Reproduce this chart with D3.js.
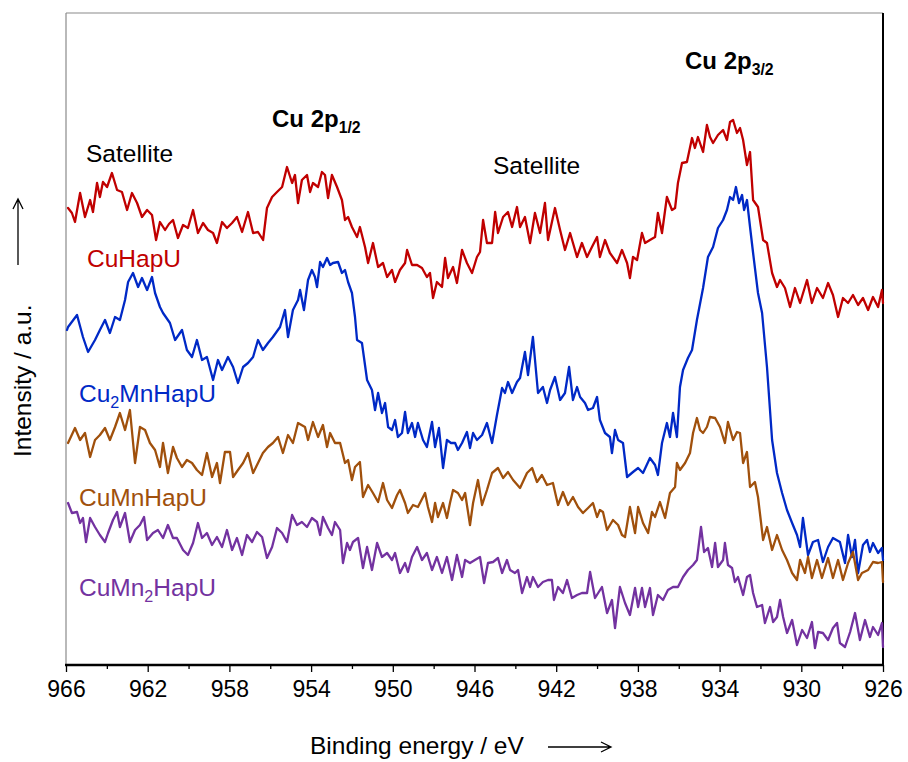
<!DOCTYPE html>
<html>
<head>
<meta charset="utf-8">
<script src="https://cdn.jsdelivr.net/npm/d3@7"></script>
<style>
  html, body { margin: 0; padding: 0; background: #fff; }
  svg { display: block; font-family: "Liberation Sans", Arial, sans-serif; }
</style>
</head>
<body>
<svg id="chart" width="908" height="762"></svg>
<script>
// Cu 2p XPS spectra, binding energy (eV) vs. intensity (a.u., stacked)
const majorTicks = [966, 962, 958, 954, 950, 946, 942, 938, 934, 930, 926];
const minorTicks = [964, 960, 956, 952, 948, 944, 940, 936, 932, 928];

const cuHapU = [[965.90,454],[965.71,449],[965.56,440],[965.31,469],[965.07,445],[964.82,462],[964.68,450],[964.48,479],[964.34,465],[964.19,480],[963.99,475],[963.75,489],[963.50,472],[963.26,470],[963.01,452],[962.77,469],[962.52,459],[962.28,445],[962.03,452],[961.79,447],[961.59,422],[961.40,440],[961.15,432],[960.96,438],[960.76,442],[960.52,424],[960.27,437],[960.03,434],[959.78,452],[959.54,429],[959.29,439],[959.05,432],[958.80,429],[958.61,419],[958.36,440],[958.12,434],[957.87,439],[957.63,445],[957.38,430],[957.09,450],[956.84,429],[956.60,430],[956.35,422],[956.16,454],[955.91,465],[955.67,470],[955.42,475],[955.18,495],[954.93,479],[954.79,487],[954.64,459],[954.45,482],[954.20,487],[954.05,470],[953.91,479],[953.66,475],[953.47,490],[953.32,487],[953.17,464],[952.98,487],[952.73,475],[952.49,462],[952.34,442],[952.19,445],[952.00,435],[951.75,425],[951.61,435],[951.36,415],[951.21,399],[950.97,419],[950.72,395],[950.48,399],[950.28,385],[950.04,392],[949.89,380],[949.65,392],[949.40,399],[949.30,412],[949.06,397],[948.81,397],[948.57,394],[948.33,385],[948.18,389],[948.03,364],[947.84,380],[947.59,375],[947.44,404],[947.30,384],[947.05,395],[946.86,379],[946.61,412],[946.37,399],[946.12,389],[945.88,405],[945.73,410],[945.58,442],[945.39,419],[945.14,419],[944.99,450],[944.85,429],[944.60,445],[944.36,450],[944.16,435],[943.92,455],[943.77,435],[943.53,445],[943.28,419],[943.04,449],[942.79,429],[942.55,459],[942.40,422],[942.06,454],[941.81,432],[941.57,412],[941.32,429],[940.98,405],[940.74,419],[940.49,405],[940.25,415],[940.00,425],[939.86,405],[939.61,422],[939.37,409],[939.02,399],[938.78,412],[938.53,399],[938.39,384],[938.24,405],[938.04,402],[937.80,429],[937.65,419],[937.41,422],[937.16,425],[937.02,449],[936.82,429],[936.58,465],[936.33,452],[936.18,454],[936.04,479],[935.84,499],[935.60,500],[935.35,524],[935.21,514],[935.06,525],[934.81,510],[934.62,537],[934.47,525],[934.32,519],[934.08,527],[933.83,532],[933.64,522],[933.49,540],[933.34,542],[933.15,529],[933.00,534],[932.85,522],[932.66,497],[932.51,510],[932.36,462],[932.12,455],[931.87,422],[931.68,419],[931.43,389],[931.19,375],[931.04,382],[930.80,374],[930.55,355],[930.31,374],[930.06,359],[929.72,382],[929.48,359],[929.23,374],[928.94,364],[928.69,379],[928.45,367],[928.20,345],[927.96,364],[927.71,359],[927.47,367],[927.22,357],[926.98,364],[926.73,352],[926.49,365],[926.24,355],[926.05,372],[926.00,359]];

const cu2MnHapU = [[965.95,332],[965.90,335],[965.46,347],[965.17,325],[964.92,310],[964.58,322],[964.34,332],[964.09,342],[963.85,329],[963.60,345],[963.36,342],[963.11,362],[962.96,380],[962.72,389],[962.47,375],[962.28,384],[962.03,372],[961.79,385],[961.64,369],[961.40,355],[961.25,349],[960.91,339],[960.66,322],[960.32,332],[960.08,312],[959.83,305],[959.59,322],[959.34,302],[959.10,305],[958.80,282],[958.56,302],[958.36,292],[958.07,305],[957.82,295],[957.58,279],[957.33,295],[957.09,299],[956.84,305],[956.60,322],[956.36,312],[956.11,319],[955.87,325],[955.52,335],[955.28,352],[955.13,325],[954.89,352],[954.64,362],[954.54,372],[954.35,352],[954.15,382],[953.96,392],[953.81,385],[953.71,375],[953.56,400],[953.42,395],[953.22,404],[953.07,397],[952.93,399],[952.68,400],[952.49,389],[952.34,392],[952.19,380],[952.00,369],[951.85,345],[951.75,322],[951.51,319],[951.26,282],[951.02,272],[950.87,252],[950.72,269],[950.53,249],[950.38,259],[950.23,235],[950.04,232],[949.89,242],[949.75,225],[949.55,229],[949.40,250],[949.26,229],[949.06,239],[948.91,225],[948.77,239],[948.52,222],[948.33,215],[948.08,240],[947.93,215],[947.74,234],[947.54,194],[947.35,222],[947.15,219],[946.95,219],[946.81,212],[946.61,219],[946.37,230],[946.22,214],[946.07,229],[945.88,222],[945.63,227],[945.39,239],[945.14,219],[944.90,247],[944.65,274],[944.51,269],[944.36,280],[944.16,269],[943.92,280],[943.77,284],[943.53,310],[943.38,287],[943.14,325],[942.89,269],[942.65,275],[942.45,259],[942.30,272],[942.06,285],[941.81,262],[941.57,269],[941.37,295],[941.18,262],[940.98,275],[940.83,265],[940.59,259],[940.44,252],[940.20,254],[940.00,265],[939.86,242],[939.61,229],[939.37,225],[939.27,209],[939.12,232],[938.97,222],[938.73,219],[938.53,185],[938.24,190],[937.99,194],[937.75,189],[937.41,204],[937.16,197],[937.02,187],[936.82,219],[936.58,239],[936.43,225],[936.28,249],[936.09,225],[935.94,275],[935.79,292],[935.55,304],[935.35,312],[935.11,342],[934.81,374],[934.57,405],[934.32,415],[934.08,434],[933.83,442],[933.64,452],[933.49,465],[933.34,462],[933.20,475],[933.05,459],[932.90,467],[932.80,452],[932.66,462],[932.51,435],[932.36,409],[932.12,369],[931.92,349],[931.68,295],[931.43,222],[931.19,189],[930.94,169],[930.70,152],[930.45,139],[930.21,127],[930.06,115],[929.92,144],[929.67,107],[929.43,120],[929.18,122],[928.94,100],[928.69,115],[928.45,124],[928.11,120],[927.86,99],[927.71,127],[927.52,105],[927.37,122],[927.22,89],[926.98,117],[926.78,122],[926.64,110],[926.49,119],[926.24,109],[926.05,114],[926.00,102]];

const cuMnHapU = [[965.90,219],[965.56,234],[965.31,222],[965.07,229],[964.82,205],[964.58,222],[964.34,227],[964.09,234],[963.85,222],[963.60,235],[963.36,249],[963.11,232],[962.87,252],[962.62,199],[962.38,235],[962.13,232],[961.89,219],[961.64,212],[961.40,195],[961.25,219],[961.01,189],[960.76,215],[960.57,204],[960.32,195],[960.08,202],[959.83,199],[959.59,192],[959.34,187],[959.10,209],[958.85,185],[958.61,199],[958.46,179],[958.22,210],[957.97,210],[957.82,185],[957.58,192],[957.33,199],[957.09,209],[956.84,189],[956.60,199],[956.36,209],[956.11,215],[955.87,219],[955.62,225],[955.38,209],[955.13,227],[954.89,219],[954.64,239],[954.30,235],[954.15,222],[953.91,240],[953.66,225],[953.42,237],[953.22,215],[953.07,229],[952.83,219],[952.58,219],[952.34,199],[952.19,202],[952.00,182],[951.85,195],[951.61,200],[951.46,165],[951.21,177],[950.97,169],[950.72,160],[950.48,179],[950.28,162],[950.04,154],[949.79,167],[949.65,172],[949.40,159],[949.26,149],[949.01,157],[948.77,155],[948.42,169],[948.28,155],[948.08,140],[947.93,159],[947.79,145],[947.54,159],[947.35,144],[947.20,159],[947.05,172],[946.81,169],[946.61,162],[946.46,169],[946.22,137],[946.07,159],[945.83,182],[945.63,157],[945.39,172],[945.14,189],[944.85,194],[944.60,184],[944.36,190],[944.11,182],[943.77,174],[943.43,189],[943.18,194],[942.94,180],[942.70,187],[942.45,177],[942.16,179],[941.91,157],[941.67,170],[941.42,157],[941.18,165],[940.93,155],[940.69,149],[940.44,154],[940.20,159],[940.00,145],[939.86,152],[939.71,150],[939.51,132],[939.22,142],[938.97,137],[938.78,127],[938.63,125],[938.39,155],[938.14,129],[937.99,155],[937.75,139],[937.50,129],[937.31,150],[937.16,145],[936.92,160],[936.67,144],[936.43,169],[936.18,175],[936.09,199],[935.94,192],[935.69,199],[935.45,209],[935.30,229],[935.11,244],[934.96,232],[934.81,229],[934.62,235],[934.47,245],[934.22,244],[933.98,235],[933.74,219],[933.59,240],[933.34,222],[933.15,230],[933.00,229],[932.85,199],[932.66,210],[932.51,175],[932.27,180],[932.12,165],[931.87,122],[931.68,135],[931.43,112],[931.19,127],[930.94,112],[930.70,102],[930.45,89],[930.21,82],[930.06,102],[929.82,89],[929.67,105],[929.48,84],[929.23,102],[928.99,84],[928.69,104],[928.45,84],[928.20,102],[927.96,82],[927.71,99],[927.47,110],[927.22,82],[927.03,89],[926.73,92],[926.49,100],[926.24,99],[926.05,100],[926.00,80]];

const cuMn2HapU = [[965.90,159],[965.71,149],[965.46,150],[965.31,139],[965.17,144],[965.02,120],[964.82,144],[964.58,135],[964.34,127],[964.09,120],[963.94,129],[963.70,142],[963.50,150],[963.36,135],[963.11,149],[962.87,120],[962.62,132],[962.38,137],[962.18,145],[962.03,122],[961.74,129],[961.50,132],[961.25,124],[961.01,137],[960.76,124],[960.57,124],[960.27,112],[960.03,107],[959.78,119],[959.54,139],[959.34,124],[959.10,129],[958.85,117],[958.61,125],[958.36,115],[958.12,132],[957.87,112],[957.63,124],[957.38,107],[957.14,127],[956.89,120],[956.65,130],[956.40,125],[956.16,104],[955.91,115],[955.67,134],[955.42,129],[955.18,120],[954.93,147],[954.69,137],[954.45,140],[954.20,135],[953.96,144],[953.71,140],[953.56,127],[953.42,145],[953.17,134],[952.98,127],[952.83,140],[952.58,132],[952.44,99],[952.24,119],[952.10,112],[951.95,120],[951.70,124],[951.46,94],[951.26,115],[951.02,92],[950.77,119],[950.53,105],[950.28,109],[950.04,102],[949.89,109],[949.65,89],[949.40,99],[949.26,90],[949.06,105],[948.81,115],[948.57,102],[948.33,109],[948.08,92],[947.84,105],[947.59,89],[947.35,105],[947.10,82],[946.86,107],[946.61,85],[946.46,102],[946.22,99],[945.98,102],[945.73,105],[945.53,79],[945.34,99],[945.09,100],[944.85,104],[944.65,89],[944.41,102],[944.26,92],[944.02,89],[943.87,92],[943.67,69],[943.43,85],[943.28,75],[943.14,85],[942.89,75],[942.65,80],[942.40,82],[942.21,82],[942.11,62],[941.91,75],[941.67,69],[941.47,82],[941.23,64],[940.98,67],[940.74,69],[940.49,69],[940.34,90],[940.10,64],[939.76,75],[939.51,49],[939.27,62],[939.12,34],[938.88,75],[938.63,59],[938.39,47],[938.14,74],[937.99,55],[937.80,74],[937.65,55],[937.41,74],[937.26,47],[937.02,67],[936.77,62],[936.53,72],[936.28,75],[936.04,75],[935.79,85],[935.55,92],[935.30,97],[935.11,102],[934.91,135],[934.76,110],[934.57,114],[934.37,95],[934.22,119],[934.08,95],[933.83,102],[933.74,119],[933.59,97],[933.39,94],[933.25,80],[933.10,85],[932.85,67],[932.66,85],[932.51,87],[932.36,69],[932.17,55],[931.92,57],[931.78,39],[931.53,55],[931.38,40],[931.19,45],[931.04,62],[930.89,45],[930.70,29],[930.45,42],[930.21,17],[929.96,32],[929.72,24],[929.48,40],[929.33,14],[929.18,30],[928.94,29],[928.69,22],[928.45,34],[928.25,39],[928.11,19],[927.86,15],[927.61,30],[927.37,49],[927.13,22],[926.88,42],[926.64,25],[926.49,35],[926.24,27],[926.05,39],[926.00,15]];

const seriesData = [cuHapU, cu2MnHapU, cuMnHapU, cuMn2HapU];
const seriesColors = ["#C00000", "#0029C6", "#A0500C", "#7332A0"];

const svg = d3.select("#chart");
const plotL = 66, plotR = 883, plotT = 13, plotB = 665;

const x = d3.scaleLinear().domain([966, 926]).range([plotL, plotR]);
const y = d3.scaleLinear().domain([-3, 649]).range([plotB, plotT]);

// frame: thin grey left/top, black right, heavy black bottom axis
svg.append("line").attr("x1", plotL).attr("x2", plotL).attr("y1", plotT).attr("y2", plotB)
  .attr("stroke", "#8a8a8a").attr("stroke-width", 1.2);
svg.append("line").attr("x1", plotL).attr("x2", plotR).attr("y1", plotT).attr("y2", plotT)
  .attr("stroke", "#8a8a8a").attr("stroke-width", 1.2);
svg.append("line").attr("x1", plotR).attr("x2", plotR).attr("y1", plotT).attr("y2", plotB)
  .attr("stroke", "#000").attr("stroke-width", 2);

// spectra
const line = d3.line().x(d => x(d[0])).y(d => y(d[1]));
const plot = svg.append("g");
seriesData.forEach((s, i) => {
  plot.append("path").datum(s)
    .attr("d", line)
    .attr("fill", "none")
    .attr("stroke", seriesColors[i])
    .attr("stroke-width", 2.3)
    .attr("stroke-linejoin", "round")
    .attr("stroke-linecap", "round");
});

// x axis
const axisG = svg.append("g").attr("transform", `translate(0,${plotB})`);
axisG.call(d3.axisBottom(x).tickValues(majorTicks).tickSize(7).tickPadding(9).tickFormat(d3.format("d")));
axisG.select(".domain").remove();
axisG.selectAll(".tick line").attr("stroke", "#000").attr("stroke-width", 1.3);
axisG.selectAll(".tick text")
  .attr("font-family", "'Liberation Sans', Arial, sans-serif")
  .attr("font-size", 23).attr("fill", "#000");
const minorG = svg.append("g").attr("transform", `translate(0,${plotB})`);
minorG.call(d3.axisBottom(x).tickValues(minorTicks).tickSize(4).tickFormat(""));
minorG.select(".domain").remove();
minorG.selectAll(".tick line").attr("stroke", "#000").attr("stroke-width", 1.3);
svg.append("line").attr("x1", plotL - 1).attr("x2", plotR + 1).attr("y1", plotB).attr("y2", plotB)
  .attr("stroke", "#000").attr("stroke-width", 2.5);

// axis titles with direction arrows
svg.append("text").attr("x", 310).attr("y", 754)
  .attr("font-size", 24.5).attr("fill", "#000").text("Binding energy / eV");
svg.append("path").attr("d", "M548,747 H610 M601,742 L611,747 L601,752")
  .attr("fill", "none").attr("stroke", "#000").attr("stroke-width", 1.3);

svg.append("text").attr("transform", "translate(31,457) rotate(-90)")
  .attr("font-size", 24.5).attr("fill", "#000").text("Intensity / a.u.");
svg.append("path").attr("d", "M18,265 V200 M13,209 L18,199 L23,209")
  .attr("fill", "none").attr("stroke", "#000").attr("stroke-width", 1.3);

// peak annotations
function subLabel(xp, yp, main, sub, size, weight, color, tail) {
  const t = svg.append("text").attr("x", xp).attr("y", yp)
    .attr("font-size", size).attr("font-weight", weight).attr("fill", color);
  t.append("tspan").text(main);
  t.append("tspan").attr("dy", size * 0.25).attr("font-size", size * 0.66).text(sub);
  if (tail) t.append("tspan").attr("dy", -size * 0.25).text(tail);
  return t;
}
subLabel(685, 69, "Cu 2p", "3/2", 24, "bold", "#000");
subLabel(272, 127, "Cu 2p", "1/2", 24, "bold", "#000");
svg.append("text").attr("x", 86).attr("y", 162).attr("font-size", 24.5).attr("fill", "#000").text("Satellite");
svg.append("text").attr("x", 493).attr("y", 174).attr("font-size", 24.5).attr("fill", "#000").text("Satellite");

// series labels
svg.append("text").attr("x", 87).attr("y", 267).attr("font-size", 24.5).attr("fill", seriesColors[0]).text("CuHapU");
subLabel(79, 402, "Cu", "2", 24.5, "normal", seriesColors[1], "MnHapU");
svg.append("text").attr("x", 79).attr("y", 506).attr("font-size", 24.5).attr("fill", seriesColors[2]).text("CuMnHapU");
subLabel(79, 596, "CuMn", "2", 24.5, "normal", seriesColors[3], "HapU");
</script>
</body>
</html>
